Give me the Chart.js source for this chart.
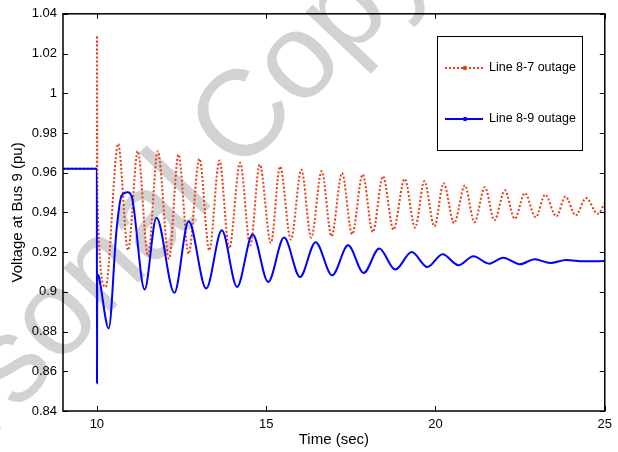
<!DOCTYPE html>
<html>
<head>
<meta charset="utf-8">
<script src="https://cdn.jsdelivr.net/npm/chart.js@4.4.0/dist/chart.umd.min.js"></script>
<style>
html,body{margin:0;padding:0;background:#fff;}
#wrap{width:618px;height:452px;position:relative;}
</style>
</head>
<body>
<div id="wrap"><canvas id="c" width="618" height="452"></canvas></div>
<script>
// ---- data ----
const xTicks = [10, 15, 20, 25];
const yTicks = [0.84, 0.86, 0.88, 0.90, 0.92, 0.94, 0.96, 0.98, 1.00, 1.02, 1.04];
const yTickLabels = ['0.84', '0.86', '0.88', '0.9', '0.92', '0.94', '0.96', '0.98', '1', '1.02', '1.04'];
const seriesNames = ['Line 8-7 outage', 'Line 8-9 outage'];
const xTitle = 'Time (sec)';
const yTitle = 'Voltage at Bus 9 (pu)';
const watermark = 'Personal Copy';

// Line 8-7 outage (red dotted)
const redTime = [9, 10, 10.005, 10.015, 10.26, 10.63, 10.92, 11.21, 11.51, 11.80, 12.13, 12.41, 12.71,
  13.03, 13.32, 13.62, 13.91, 14.23, 14.53, 14.81, 15.14, 15.41, 15.73, 16.04, 16.33, 16.64, 16.93,
  17.24, 17.54, 17.85, 18.15, 18.45, 18.76, 19.09, 19.40, 19.67, 19.97, 20.24, 20.55, 20.87, 21.15,
  21.46, 21.74, 22.05, 22.34, 22.64, 22.96, 23.24, 23.57, 23.84, 24.14, 24.45, 24.79, 25];
const redVolt = [0.962, 0.962, 1.029, 0.946, 0.9025, 0.9745, 0.921, 0.9708, 0.918, 0.9708, 0.9167, 0.9691, 0.9192,
  0.967, 0.9209, 0.9661, 0.9218, 0.965, 0.9234, 0.9641, 0.9246, 0.9631, 0.9263, 0.9615, 0.9273, 0.9608, 0.928,
  0.9598, 0.929, 0.9591, 0.9301, 0.9582, 0.9313, 0.9569, 0.9323, 0.9557, 0.933, 0.9547, 0.9346, 0.9536, 0.9351,
  0.9527, 0.936, 0.9511, 0.9368, 0.9497, 0.9376, 0.9489, 0.938, 0.948, 0.9385, 0.9472, 0.9393, 0.9447];

// Line 8-9 outage (blue solid)
const blueTime = [9, 10, 10.004, 10.01, 10.05, 10.1, 10.35, 10.58, 10.73, 10.91, 11.03, 11.41, 11.76, 12.29, 12.71,
  13.23, 13.69, 14.14, 14.60, 15.06, 15.53, 16.0, 16.46, 16.95, 17.42, 17.88, 18.34, 18.81, 19.30,
  19.76, 20.21, 20.68, 21.12, 21.59, 22.0, 22.49, 22.93, 23.39, 23.86, 24.4, 25];
const blueVolt = [0.962, 0.962, 0.854, 0.907, 0.9085, 0.904, 0.8816, 0.931, 0.9485, 0.9502, 0.948, 0.9012, 0.9373, 0.8995, 0.9356,
  0.9017, 0.931, 0.9025, 0.9289, 0.905, 0.9273, 0.9075, 0.925, 0.9083, 0.9234, 0.9095, 0.9218, 0.9112, 0.92,
  0.9125, 0.9189, 0.9134, 0.9179, 0.9142, 0.9172, 0.9139, 0.9164, 0.9145, 0.916, 0.9154, 0.9155];

const redColor = 'rgb(230,62,22)';
const blueColor = 'rgb(0,0,255)';
const FONT = "'Liberation Sans', Arial, Helvetica, sans-serif";

function pts(ts, vs) { return ts.map((t, i) => ({ x: t, y: vs[i] })); }

const bgPlugin = {
  id: 'bg',
  beforeDraw(chart) {
    const ctx = chart.ctx;
    ctx.save();
    ctx.fillStyle = '#fff';
    ctx.fillRect(0, 0, chart.width, chart.height);
    // watermark
    ctx.font = '122px ' + FONT;
    ctx.fillStyle = 'rgb(210,210,210)';
    ctx.translate(207, 210);
    ctx.rotate(-46.6 * Math.PI / 180);
    const wPer = ctx.measureText('Personal').width;
    const wL = ctx.measureText('l').width;
    ctx.textBaseline = 'alphabetic';
    ctx.fillText(watermark, -wPer + wL / 2, 0);
    ctx.restore();
  }
};

const framePlugin = {
  id: 'frame',
  afterDraw(chart) {
    const ctx = chart.ctx;
    const a = chart.chartArea;
    const xs = chart.scales.x, ys = chart.scales.y;
    ctx.save();
    ctx.strokeStyle = '#000';
    ctx.lineWidth = 1;
    ctx.beginPath();
    const tl = 5;
    xTicks.forEach(v => {
      const p = Math.round(xs.getPixelForValue(v)) + 0.5;
      ctx.moveTo(p, a.bottom); ctx.lineTo(p, a.bottom - tl);
      ctx.moveTo(p, a.top); ctx.lineTo(p, a.top + tl);
    });
    yTicks.forEach(v => {
      const p = Math.round(ys.getPixelForValue(v)) + 0.5;
      ctx.moveTo(a.left, p); ctx.lineTo(a.left + tl, p);
      ctx.moveTo(a.right, p); ctx.lineTo(a.right - tl, p);
    });
    ctx.stroke();
    ctx.lineWidth = 1.5;
    ctx.strokeRect(a.left, a.top, a.right - a.left, a.bottom - a.top);

    // legend
    const L = 437.5, T = 36.5, R = 582.5, B = 150.5;
    ctx.fillStyle = '#fff';
    ctx.fillRect(L, T, R - L, B - T);
    ctx.lineWidth = 1;
    ctx.strokeStyle = '#000';
    ctx.strokeRect(L, T, R - L, B - T);
    const rows = [68, 119];
    chart.data.datasets.forEach((ds, i) => {
      const y = rows[i];
      ctx.save();
      ctx.strokeStyle = ds.borderColor;
      ctx.lineWidth = ds.borderWidth;
      ctx.setLineDash(ds.borderDash || []);
      ctx.beginPath();
      ctx.moveTo(445, y); ctx.lineTo(483, y);
      ctx.stroke();
      ctx.setLineDash([]);
      ctx.fillStyle = ds.borderColor;
      ctx.beginPath();
      ctx.arc(465, y, 2.2, 0, Math.PI * 2);
      ctx.fill();
      ctx.restore();
      ctx.fillStyle = '#000';
      ctx.font = '12.5px ' + FONT;
      ctx.textBaseline = 'middle';
      ctx.textAlign = 'left';
      ctx.fillText(ds.label, 489, y);
    });
    ctx.restore();
  }
};

new Chart(document.getElementById('c'), {
  type: 'line',
  data: {
    datasets: [
      {
        label: seriesNames[0],
        data: pts(redTime, redVolt),
        borderColor: redColor,
        borderWidth: 2,
        borderDash: [2, 2],
        pointRadius: 0,
        cubicInterpolationMode: 'monotone',
        fill: false,
        order: 1
      },
      {
        label: seriesNames[1],
        data: pts(blueTime, blueVolt),
        borderColor: blueColor,
        borderWidth: 2,
        pointRadius: 0,
        cubicInterpolationMode: 'monotone',
        fill: false,
        order: 0
      }
    ]
  },
  options: {
    responsive: false,
    devicePixelRatio: 1,
    animation: false,
    layout: { padding: { left: 0, right: 11, top: 13, bottom: 0 } },
    plugins: { legend: { display: false }, tooltip: { enabled: false } },
    scales: {
      x: {
        type: 'linear',
        min: 9, max: 25,
        afterBuildTicks: s => { s.ticks = xTicks.map(v => ({ value: v })); },
        afterFit: s => { s.height = 41; },
        grid: { display: false, drawTicks: false },
        border: { display: false },
        ticks: { color: '#000', font: { family: FONT, size: 13 }, padding: 6, maxRotation: 0, autoSkip: false },
        title: { display: true, text: xTitle, color: '#000', font: { family: FONT, size: 15 }, padding: { top: 0, bottom: 3 } }
      },
      y: {
        type: 'linear',
        min: 0.84, max: 1.04,
        afterBuildTicks: s => { s.ticks = yTicks.map(v => ({ value: v })); },
        afterFit: s => { s.width = 63; },
        grid: { display: false, drawTicks: false },
        border: { display: false },
        ticks: { color: '#000', font: { family: FONT, size: 13 }, padding: 6, autoSkip: false,
          callback: (v, i) => yTickLabels[i] },
        title: { display: true, text: yTitle, color: '#000', font: { family: FONT, size: 15 }, padding: { top: 9, bottom: 0 } }
      }
    }
  },
  plugins: [bgPlugin, framePlugin]
});
</script>
</body>
</html>
